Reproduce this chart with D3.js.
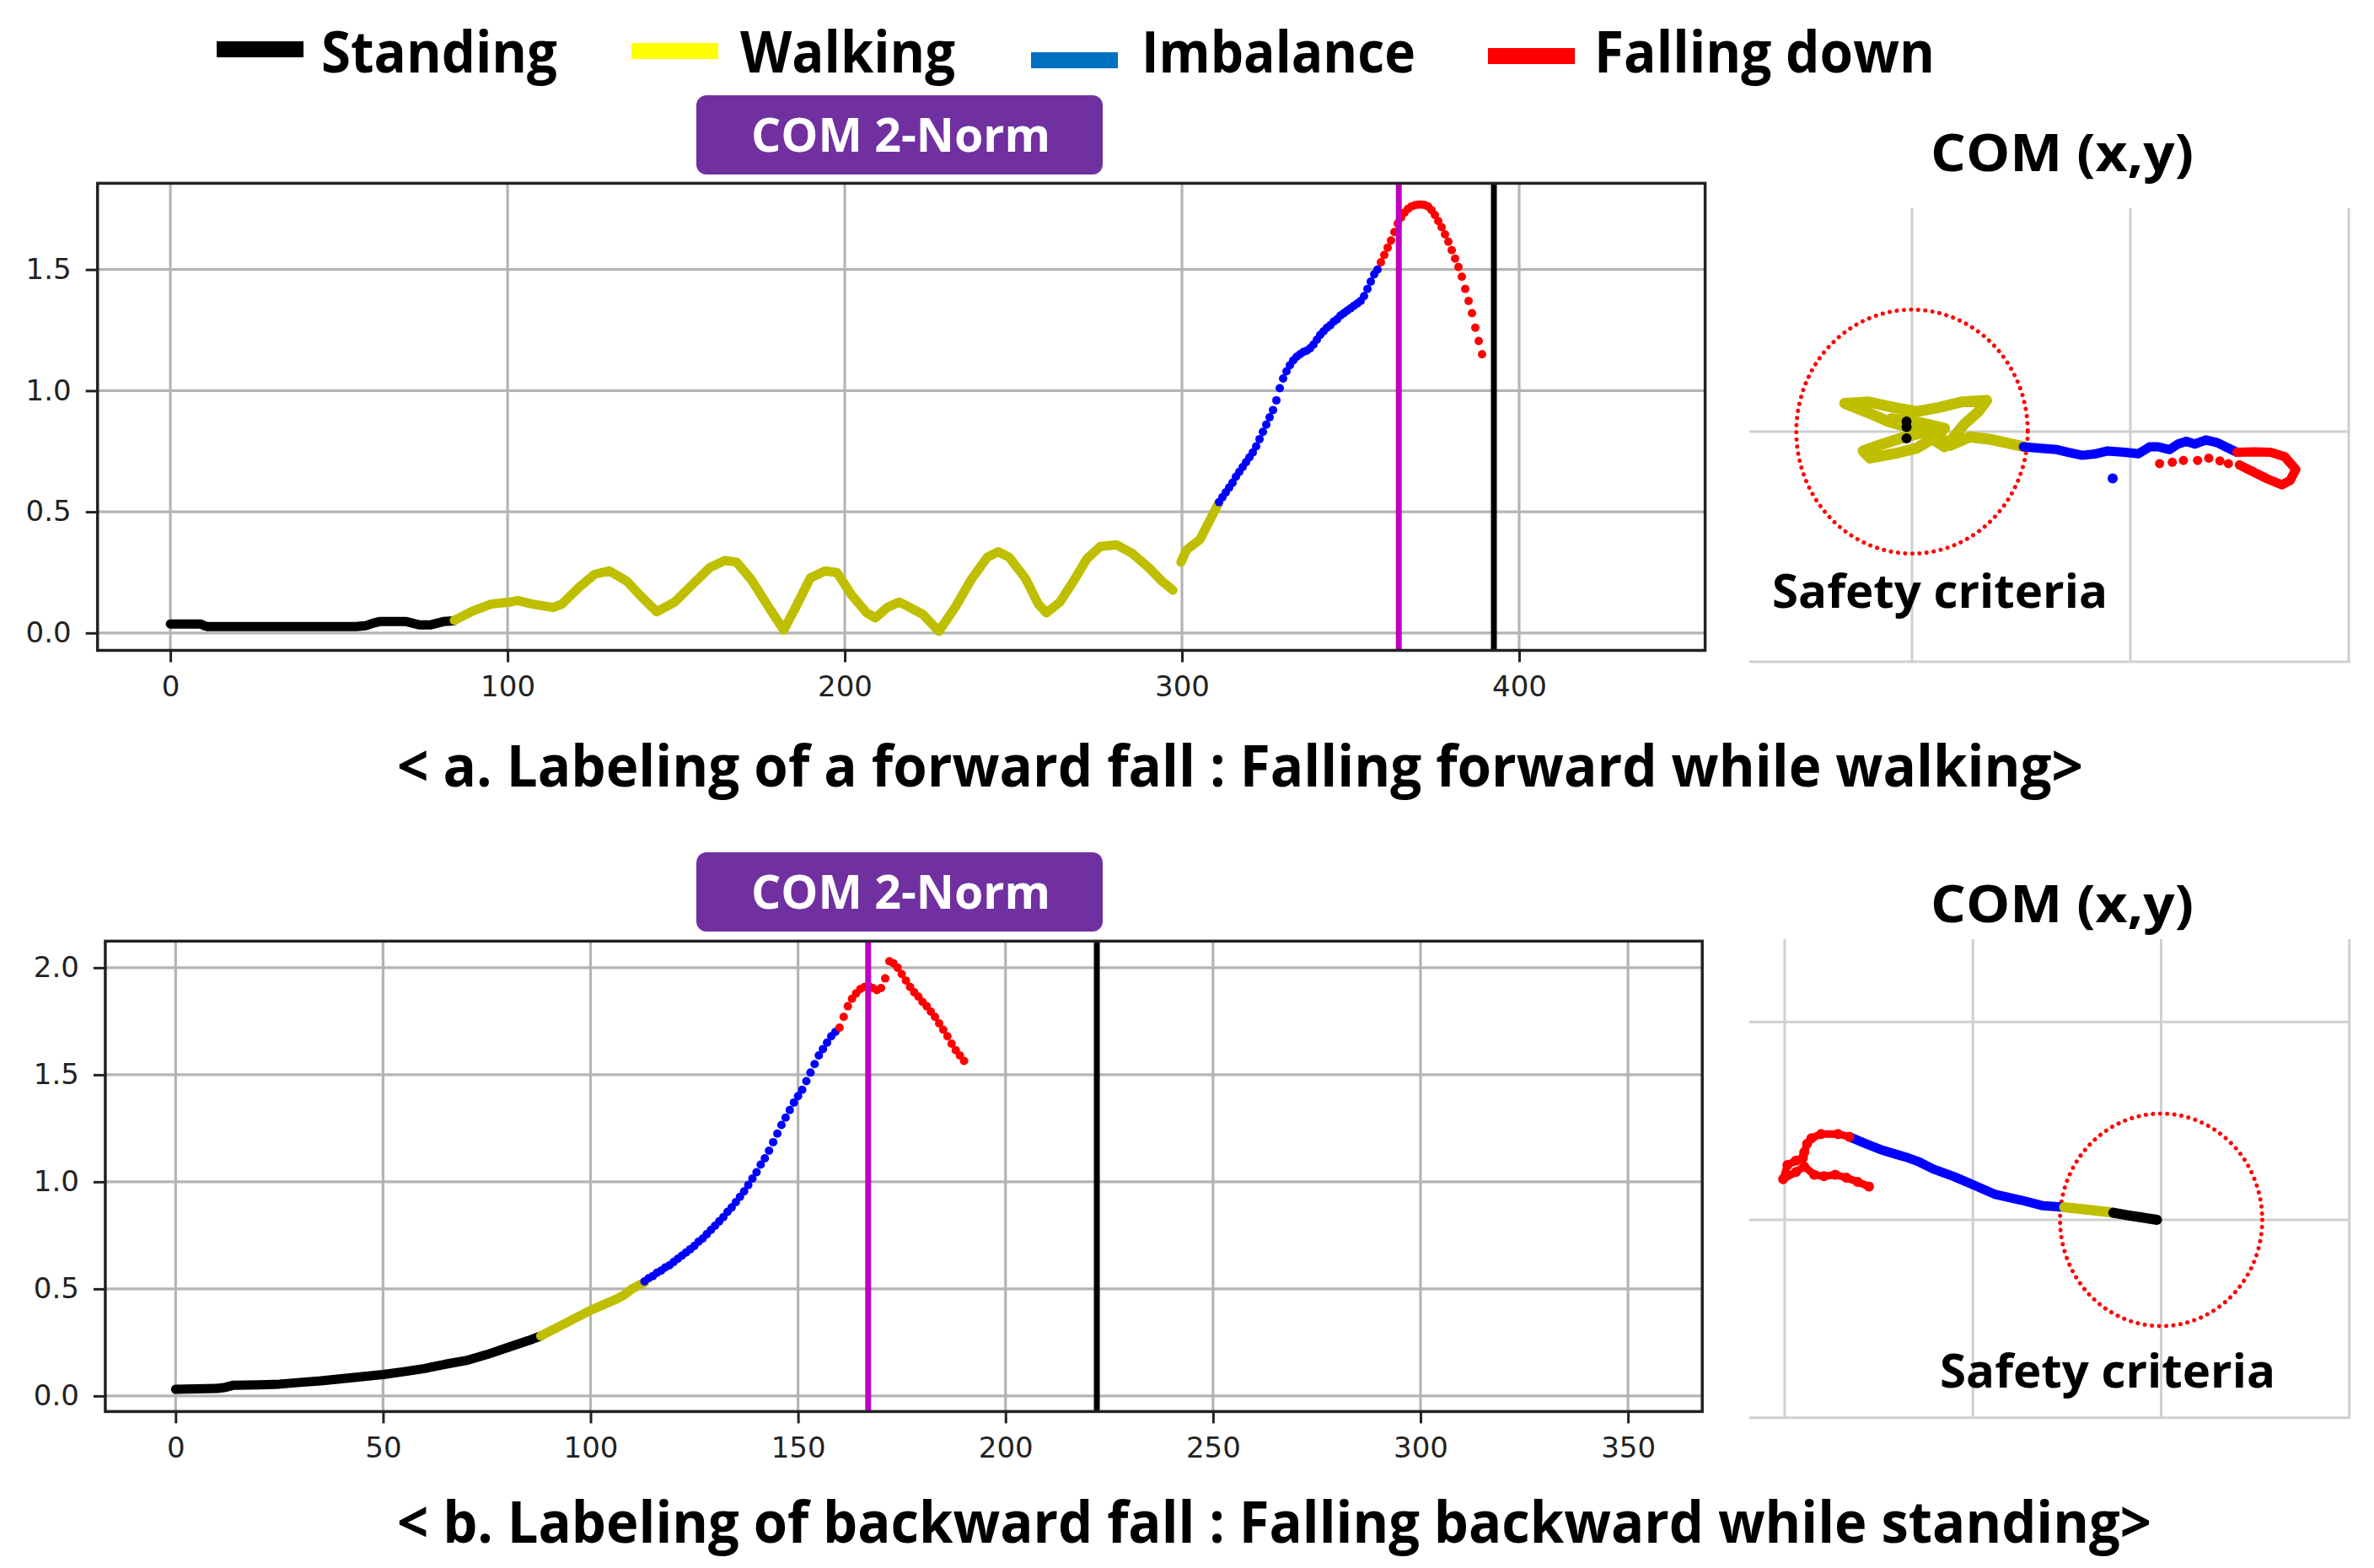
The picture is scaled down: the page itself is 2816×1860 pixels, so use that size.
<!DOCTYPE html>
<html><head><meta charset="utf-8">
<script src="https://cdn.jsdelivr.net/npm/d3@7"></script>
<style>body{margin:0;background:#fff;} svg{display:block;}</style>
</head><body>
<svg id="c" width="2816" height="1860"></svg>
<script>
// ---------------- DATA ----------------
const legendLabels = ["Standing", "Walking", "Imbalance", "Falling down"];
const boxTitle = "COM 2-Norm";
const comTitle = "COM (x,y)";
const safetyLabel = "Safety criteria";
const captionA = "< a. Labeling of a forward fall : Falling forward while walking>";
const captionB = "< b. Labeling of backward fall : Falling backward while standing>";

const xTicksA = [0, 100, 200, 300, 400];
const yTicksA = [0, 0.5, 1.0, 1.5];
const xTicksB = [0, 50, 100, 150, 200, 250, 300, 350];
const yTicksB = [0, 0.5, 1.0, 1.5, 2.0];

// (a) forward fall – COM 2-norm, [frame, value]
const standingA = [[0,0.037],[3,0.037],[6,0.037],[9,0.037],[10,0.03],[11,0.026],[15,0.026],[20,0.026],[25,0.026],[30,0.026],[35,0.026],[40,0.026],[45,0.026],[50,0.026],[55,0.026],[58,0.03],[60,0.04],[62,0.047],[66,0.047],[70,0.047],[72,0.04],[74,0.033],[77,0.033],[79,0.04],[81,0.047],[84,0.05]];
const walkingA = [[84.2,0.052],[89.8,0.091],[95.1,0.119],[100.4,0.127],[103,0.134],[107.4,0.119],[113.5,0.105],[116.1,0.119],[121.4,0.191],[125.8,0.242],[130.2,0.256],[135.4,0.213],[139.8,0.148],[144.2,0.088],[149.5,0.127],[154.7,0.198],[160,0.27],[164.4,0.299],[167.9,0.292],[172.3,0.22],[177.5,0.105],[181.9,0.012],[185.4,0.105],[189.8,0.227],[194.2,0.256],[197.7,0.249],[202.1,0.155],[206.5,0.083],[209.1,0.062],[212.6,0.105],[216.1,0.127],[218.4,0.112],[223.2,0.076],[227.9,0.007],[232.7,0.105],[237.5,0.22],[242.3,0.313],[245.5,0.335],[248.7,0.313],[253.5,0.227],[257.4,0.119],[259.8,0.083],[263.8,0.127],[267.8,0.213],[271.8,0.306],[275.8,0.357],[280.6,0.364],[285.3,0.328],[290.1,0.27],[294.1,0.213],[297.3,0.177]];
const walkingA2 = [[299.7,0.292],[301.3,0.342],[305.3,0.385],[307.7,0.45],[310.9,0.536]];
const imbalanceAStart = 311;
const imbalanceAValues = [0.54,0.56,0.58,0.60,0.62,0.645,0.665,0.685,0.705,0.725,0.745,0.77,0.80,0.83,0.86,0.89,0.92,0.96,1.01,1.05,1.08,1.105,1.125,1.14,1.15,1.16,1.165,1.175,1.19,1.21,1.23,1.245,1.26,1.27,1.285,1.295,1.31,1.32,1.33,1.34,1.35,1.36,1.37,1.39,1.42,1.45,1.48,1.50];
const fallingAStart = 359;
const fallingAValues = [1.53,1.56,1.59,1.62,1.655,1.69,1.715,1.735,1.75,1.76,1.765,1.768,1.768,1.766,1.76,1.745,1.725,1.70,1.675,1.645,1.615,1.58,1.545,1.51,1.47,1.42,1.37,1.32,1.26,1.205,1.15];
const fallOnsetA = 364.3, endLineA = 392.5;

// (b) backward fall – COM 2-norm
const standingB = [[0,0.031],[5,0.033],[10,0.035],[12,0.04],[14,0.05],[20,0.052],[25,0.055],[30,0.063],[35,0.07],[40,0.08],[45,0.09],[50,0.10],[55,0.113],[60,0.128],[65,0.148],[70,0.165],[75,0.193],[80,0.226],[85,0.258],[88,0.28]];
const walkingB = [[88,0.28],[90,0.30],[93,0.33],[96,0.36],[100,0.40],[103,0.425],[106,0.45],[108,0.47],[110,0.50],[113,0.53]];
const imbalanceBStart = 113;
const imbalanceBValues = [0.535,0.55,0.56,0.575,0.585,0.60,0.61,0.625,0.64,0.655,0.67,0.685,0.70,0.72,0.735,0.755,0.775,0.795,0.815,0.835,0.86,0.88,0.905,0.93,0.955,0.985,1.015,1.045,1.08,1.11,1.145,1.185,1.225,1.265,1.30,1.335,1.37,1.40,1.43,1.47,1.51,1.55,1.59,1.62,1.65,1.68,1.70];
const fallingBStart = 160;
const fallingBValues = [1.72,1.77,1.82,1.855,1.88,1.90,1.91,1.915,1.905,1.895,1.905,1.95,2.03,2.02,2.00,1.97,1.94,1.91,1.885,1.865,1.84,1.82,1.795,1.77,1.74,1.71,1.68,1.645,1.615,1.59,1.565];
const fallOnsetB = 166.9, endLineB = 222.0;

// COM (x,y) trajectories
const comAStanding = [[-0.025,0.044],[-0.025,0.02],[-0.025,-0.029]];
const comAWalking = [[-0.018,0.019],[-0.108,0.044],[-0.198,0.081],[-0.308,0.123],[-0.198,0.129],[-0.082,0.105],[0.021,0.087],[0.124,0.105],[0.227,0.129],[0.342,0.136],[0.304,0.087],[0.239,0.032],[0.181,-0.035],[0.149,-0.066],[0.098,-0.035],[0.046,-0.005],[-0.031,-0.023],[-0.134,-0.054],[-0.224,-0.084],[-0.192,-0.115],[-0.082,-0.096],[0.021,-0.072],[0.098,-0.029],[0.149,0.014],[0.072,0.032],[0.008,0.044],[-0.095,0.056],[-0.005,0.032],[0.098,0.001],[0.175,-0.06],[0.265,-0.023],[0.368,-0.035],[0.458,-0.054],[0.516,-0.066]];
const comAImbalance = [[0.51,-0.066],[0.587,-0.072],[0.664,-0.078],[0.716,-0.09],[0.78,-0.103],[0.844,-0.096],[0.896,-0.084],[0.973,-0.09],[1.037,-0.096],[1.089,-0.066],[1.127,-0.066],[1.179,-0.078],[1.218,-0.054],[1.256,-0.042],[1.295,-0.054],[1.346,-0.036],[1.398,-0.048],[1.436,-0.066],[1.488,-0.09]];
const comAImbalanceStray = [[0.919,-0.203]];
const comAFallingLoop = [[1.488,-0.09],[1.565,-0.088],[1.642,-0.09],[1.707,-0.109],[1.758,-0.164],[1.732,-0.212],[1.694,-0.231],[1.629,-0.206],[1.565,-0.176],[1.5,-0.145]];
const comAFallingTail = [[1.5,-0.145],[1.449,-0.139],[1.41,-0.127],[1.359,-0.115],[1.308,-0.125],[1.243,-0.125],[1.192,-0.133],[1.134,-0.139]];
const safetyRadiusA = 0.53;

const comBStanding = [[-0.022,0],[-0.09,0.01],[-0.17,0.022],[-0.254,0.036]];
const comBWalking = [[-0.254,0.036],[-0.38,0.05],[-0.515,0.064]];
const comBImbalance = [[-0.515,0.064],[-0.627,0.071],[-0.746,0.1],[-0.88,0.128],[-1.0,0.178],[-1.104,0.22],[-1.209,0.256],[-1.284,0.292],[-1.343,0.313],[-1.418,0.334],[-1.493,0.356],[-1.567,0.384],[-1.657,0.42]];
const comBFalling = [[-1.657,0.42],[-1.717,0.434],[-1.806,0.434],[-1.858,0.412],[-1.881,0.384],[-1.896,0.341],[-1.903,0.313],[-1.94,0.299],[-1.985,0.277],[-2.008,0.206],[-1.94,0.242],[-1.896,0.27],[-1.843,0.228],[-1.791,0.22],[-1.731,0.228],[-1.672,0.213],[-1.612,0.192],[-1.552,0.168]];
const safetyRadiusB = 0.537;

// ---------------- STYLE ----------------
const C = {stand:"#000000", walk:"#BFBF00", imb:"#0000FF", fall:"#FF0000", onset:"#BF00BF"};
const legendSwatch = ["#000000", "#FFFF00", "#0070C0", "#FF0000"];
const FONT = "'Open Sans', 'Noto Sans', sans-serif";
const TICKFONT = "'DejaVu Sans', sans-serif";

const svg = d3.select("#c");
svg.append("rect").attr("width", 2816).attr("height", 1860).attr("fill", "#fff");

function label(str, x, y, size, width, fill, weight) {
  return svg.append("text").attr("x", x).attr("y", y).text(str)
    .attr("font-family", FONT).attr("font-weight", weight || 700)
    .attr("font-size", size).attr("fill", fill || "#000")
    .attr("textLength", width).attr("lengthAdjust", "spacingAndGlyphs");
}

// Legend
const legSwX = [257, 749, 1223, 1765], legSwY = [49, 51, 62, 57];
const legTxX = [381, 878, 1354, 1891], legTxW = [280, 255, 325, 404];
legendLabels.forEach((t, i) => {
  svg.append("rect").attr("x", legSwX[i]).attr("y", legSwY[i]).attr("width", 103).attr("height", 19).attr("fill", legendSwatch[i]);
  label(t, legTxX[i], 86, 68, legTxW[i]);
});

// Purple header boxes
function header(top) {
  svg.append("rect").attr("x", 826).attr("y", top).attr("width", 482).attr("height", 94).attr("rx", 12).attr("fill", "#7030A0");
  label(boxTitle, 891, top + 67, 56, 355, "#fff");
}
header(113);
header(1011);

// Line chart
function lineChart(cfg) {
  const x = d3.scaleLinear().domain(cfg.xDomain).range([cfg.left, cfg.right]);
  const y = d3.scaleLinear().domain(cfg.yDomain).range([cfg.bottom, cfg.top]);
  const g = svg.append("g");
  g.selectAll(null).data(cfg.xTicks).join("line")
    .attr("x1", d => x(d)).attr("x2", d => x(d)).attr("y1", cfg.top).attr("y2", cfg.bottom)
    .attr("stroke", "#b4b4b4").attr("stroke-width", 3.2);
  g.selectAll(null).data(cfg.yTicks).join("line")
    .attr("y1", d => y(d)).attr("y2", d => y(d)).attr("x1", cfg.left).attr("x2", cfg.right)
    .attr("stroke", "#b4b4b4").attr("stroke-width", 3.2);
  const line = d3.line().x(d => x(d[0])).y(d => y(d[1]));
  cfg.lines.forEach(s => {
    g.append("path").datum(s.data).attr("d", line).attr("fill", "none")
      .attr("stroke", s.color).attr("stroke-width", 11)
      .attr("stroke-linejoin", "round").attr("stroke-linecap", "round");
  });
  cfg.dots.forEach(s => {
    g.selectAll(null).data(s.values).join("circle")
      .attr("cx", (d, i) => x(s.start + i)).attr("cy", d => y(d)).attr("r", 5).attr("fill", s.color);
  });
  cfg.vlines.forEach(v => {
    g.append("line").attr("x1", x(v.x)).attr("x2", x(v.x)).attr("y1", cfg.top).attr("y2", cfg.bottom)
      .attr("stroke", v.color).attr("stroke-width", 7);
  });
  g.append("rect").attr("x", cfg.left).attr("y", cfg.top)
    .attr("width", cfg.right - cfg.left).attr("height", cfg.bottom - cfg.top)
    .attr("fill", "none").attr("stroke", "#222").attr("stroke-width", 3.5);
  const ax = g.append("g").attr("transform", `translate(0,${cfg.bottom})`)
    .call(d3.axisBottom(x).tickValues(cfg.xTicks).tickSize(14).tickPadding(16).tickFormat(d3.format("d")));
  const ay = g.append("g").attr("transform", `translate(${cfg.left},0)`)
    .call(d3.axisLeft(y).tickValues(cfg.yTicks).tickSize(14).tickPadding(17).tickFormat(d3.format(".1f")));
  [ax, ay].forEach(a => {
    a.select(".domain").remove();
    a.selectAll("line").attr("stroke", "#222").attr("stroke-width", 3);
    a.selectAll("text").attr("font-family", TICKFONT).attr("font-size", 34).attr("fill", "#222");
  });
}

lineChart({
  left: 115.7, right: 2022.6, top: 217.4, bottom: 771.5,
  xDomain: [-21.6, 455.15], yDomain: [-0.072, 1.856],
  xTicks: xTicksA, yTicks: yTicksA,
  lines: [{data: standingA, color: C.stand}, {data: walkingA, color: C.walk}, {data: walkingA2, color: C.walk}],
  dots: [{start: imbalanceAStart, values: imbalanceAValues, color: C.imb},
         {start: fallingAStart, values: fallingAValues, color: C.fall}],
  vlines: [{x: fallOnsetA, color: C.onset}, {x: endLineA, color: "#000"}]
});

lineChart({
  left: 124.9, right: 2019.2, top: 1116.4, bottom: 1674.4,
  xDomain: [-16.94, 367.9], yDomain: [-0.073, 2.124],
  xTicks: xTicksB, yTicks: yTicksB,
  lines: [{data: standingB, color: C.stand}, {data: walkingB, color: C.walk}],
  dots: [{start: imbalanceBStart, values: imbalanceBValues, color: C.imb},
         {start: fallingBStart, values: fallingBValues, color: C.fall}],
  vlines: [{x: fallOnsetB, color: C.onset}, {x: endLineB, color: "#000"}]
});

// COM (x,y) panels
function comPanel(cfg) {
  const x = d3.scaleLinear().domain([0, 1]).range([cfg.x0, cfg.x0 + cfg.ux]);
  const y = d3.scaleLinear().domain([0, 1]).range([cfg.y0, cfg.y0 - cfg.uy]);
  const g = svg.append("g");
  cfg.vGrid.forEach(v => g.append("line").attr("x1", x(v)).attr("x2", x(v)).attr("y1", cfg.gTop).attr("y2", cfg.gBottom)
    .attr("stroke", "#cfcfcf").attr("stroke-width", 3));
  cfg.hGrid.forEach(v => g.append("line").attr("y1", y(v)).attr("y2", y(v)).attr("x1", cfg.gLeft).attr("x2", cfg.gRight)
    .attr("stroke", "#cfcfcf").attr("stroke-width", 3));
  g.append("ellipse").attr("cx", x(0)).attr("cy", y(0))
    .attr("rx", x(cfg.radius) - x(0)).attr("ry", y(0) - y(cfg.radius))
    .attr("fill", "none").attr("stroke", C.fall).attr("stroke-width", 5)
    .attr("stroke-linecap", "round").attr("stroke-dasharray", "0.1 8.4");
  const line = d3.line().x(d => x(d[0])).y(d => y(d[1]));
  cfg.lines.forEach(s => g.append("path").datum(s.data).attr("d", line).attr("fill", "none")
    .attr("stroke", s.color).attr("stroke-width", s.w).attr("stroke-linejoin", "round").attr("stroke-linecap", "round"));
  cfg.dots.forEach(s => g.selectAll(null).data(s.data).join("circle")
    .attr("cx", d => x(d[0])).attr("cy", d => y(d[1])).attr("r", s.r).attr("fill", s.color));
  label(comTitle, cfg.titleX, cfg.titleY, 60, 312);
  label(safetyLabel, cfg.safeX, cfg.safeY, 56, 398);
}

comPanel({
  x0: 2268, ux: 259, y0: 512, uy: 273,
  vGrid: [0, 1, 2], hGrid: [0, -1], gTop: 247, gBottom: 785, gLeft: 2075, gRight: 2788,
  radius: safetyRadiusA,
  lines: [{data: comAWalking, color: C.walk, w: 13}, {data: comAImbalance, color: C.imb, w: 11},
          {data: comAFallingLoop, color: C.fall, w: 11}],
  dots: [{data: comAStanding, color: C.stand, r: 6}, {data: comAImbalanceStray, color: C.imb, r: 6},
         {data: comAFallingTail, color: C.fall, r: 5.5}],
  titleX: 2290, titleY: 203, safeX: 2102, safeY: 721
});

comPanel({
  x0: 2563.5, ux: 223.3, y0: 1447, uy: 234.7,
  vGrid: [-2, -1, 0, 1], hGrid: [1, 0, -1], gTop: 1114, gBottom: 1682, gLeft: 2075, gRight: 2788,
  radius: safetyRadiusB,
  lines: [{data: comBImbalance, color: C.imb, w: 11}, {data: comBFalling, color: C.fall, w: 9},
          {data: comBWalking, color: C.walk, w: 12}, {data: comBStanding, color: C.stand, w: 12}],
  dots: [{data: comBFalling, color: C.fall, r: 6}],
  titleX: 2290, titleY: 1094, safeX: 2301, safeY: 1646
});

// Captions
label(captionA, 471, 933, 68, 2000);
label(captionB, 471, 1830, 68, 2081);
</script>
</body></html>
